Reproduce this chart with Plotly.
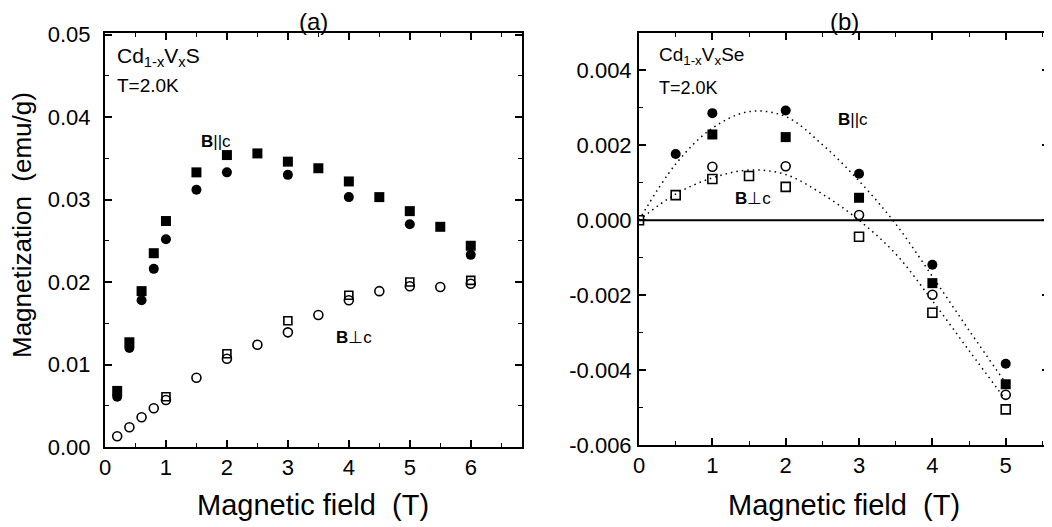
import plotly.graph_objects as go

# ---- Panel (a): Cd1-xVxS ----
a_par_sq_x = [0.2, 0.4, 0.6, 0.8, 1.0, 1.5, 2.0, 2.5, 3.0, 3.5, 4.0, 4.5, 5.0, 5.5, 6.0]
a_par_sq_y = [0.0068, 0.0127, 0.0189, 0.0235, 0.0274, 0.0333, 0.0354, 0.0356, 0.0346, 0.0338,
              0.0322, 0.0303, 0.0286, 0.0267, 0.0244]
a_par_ci_x = [0.2, 0.4, 0.6, 0.8, 1.0, 1.5, 2.0, 3.0, 4.0, 5.0, 6.0]
a_par_ci_y = [0.0061, 0.0120, 0.0178, 0.0216, 0.0252, 0.0312, 0.0333, 0.0330, 0.0303, 0.0270, 0.0233]
a_perp_ci_x = [0.2, 0.4, 0.6, 0.8, 1.0, 1.5, 2.0, 2.5, 3.0, 3.5, 4.0, 4.5, 5.0, 5.5, 6.0]
a_perp_ci_y = [0.0013, 0.0024, 0.0036, 0.0047, 0.0057, 0.0084, 0.0107, 0.0124, 0.0139, 0.0160,
               0.0178, 0.0189, 0.0195, 0.0194, 0.0198]
a_perp_sq_x = [1.0, 2.0, 3.0, 4.0, 5.0, 6.0]
a_perp_sq_y = [0.0061, 0.0113, 0.0153, 0.0184, 0.0200, 0.0202]

# ---- Panel (b): Cd1-xVxSe ----
b_par_ci_x = [0.5, 1.0, 2.0, 3.0, 4.0, 5.0]
b_par_ci_y = [0.00177, 0.00286, 0.00293, 0.00124, -0.00119, -0.00383]
b_par_sq_x = [1.0, 2.0, 3.0, 4.0, 5.0]
b_par_sq_y = [0.00229, 0.00222, 0.00060, -0.00168, -0.00438]
b_perp_ci_x = [1.0, 2.0, 3.0, 4.0, 5.0]
b_perp_ci_y = [0.00143, 0.00144, 0.00014, -0.00199, -0.00466]
b_perp_sq_x = [0.0, 0.5, 1.0, 1.5, 2.0, 3.0, 4.0, 5.0]
b_perp_sq_y = [0.0, 0.00067, 0.00110, 0.00118, 0.00089, -0.00044, -0.00247, -0.00505]

# dotted guide curves
b_fit_x = [0.0, 0.5, 1.0, 1.5, 2.0, 2.5, 3.0, 3.5, 4.0, 4.5, 5.0]
b_fit_par_y = [0.0, 0.00150, 0.00246, 0.00290, 0.00277, 0.00202, 0.00105, -0.00010, -0.00150, -0.00294, -0.00435]
b_fit_perp_y = [0.0, 0.00070, 0.00113, 0.00134, 0.00122, 0.00070, 0.00000, -0.00090, -0.00215, -0.00348, -0.00480]

a_xticks = [0, 1, 2, 3, 4, 5, 6]
a_yticks = [0.0, 0.01, 0.02, 0.03, 0.04, 0.05]
a_yticktext = ["0.00", "0.01", "0.02", "0.03", "0.04", "0.05"]
b_xticks = [0, 1, 2, 3, 4, 5]
b_yticks = [-0.006, -0.004, -0.002, 0.0, 0.002, 0.004]
b_yticktext = ["-0.006", "-0.004", "-0.002", "0.000", "0.002", "0.004"]

FONT = "Liberation Sans, Arial, sans-serif"
fig = go.Figure()

def add(x, y, symbol, xa, ya, size):
    open_ = "open" in symbol
    fig.add_trace(go.Scatter(
        x=x, y=y, mode="markers", xaxis=xa, yaxis=ya, showlegend=False,
        marker=dict(symbol=symbol, size=size, color="black",
                    line=dict(color="black", width=1.6 if open_ else 0))))

for xs, ys in [(b_fit_x, b_fit_par_y), (b_fit_x, b_fit_perp_y)]:
    fig.add_trace(go.Scatter(x=xs, y=ys, mode="lines", xaxis="x2", yaxis="y2", showlegend=False,
                             line=dict(color="black", width=1.5, dash="1.5px,4px",
                                       shape="spline", smoothing=1.0)))

add(a_par_sq_x, a_par_sq_y, "square", "x", "y", 10)
add(a_par_ci_x, a_par_ci_y, "circle", "x", "y", 10)
add(a_perp_ci_x, a_perp_ci_y, "circle-open", "x", "y", 9)
add(a_perp_sq_x, a_perp_sq_y, "square-open", "x", "y", 8)

add(b_par_ci_x, b_par_ci_y, "circle", "x2", "y2", 10)
add(b_par_sq_x, b_par_sq_y, "square", "x2", "y2", 10)
add(b_perp_ci_x, b_perp_ci_y, "circle-open", "x2", "y2", 9)
add(b_perp_sq_x, b_perp_sq_y, "square-open", "x2", "y2", 9)

def axis(**kw):
    d = dict(showline=True, linecolor="black", linewidth=2, mirror="ticks",
             ticks="inside", ticklen=7, tickwidth=1.5, tickcolor="black",
             showgrid=False, zeroline=False, automargin=False,
             tickfont=dict(family=FONT, size=22, color="black"))
    d.update(kw)
    return d

minor_common = dict(ticks="inside", ticklen=4, tickwidth=1.2, tickcolor="black", showgrid=False)

# page body adds an 8px offset, so the figure is 8px smaller and margins shifted
fig.update_layout(
    width=1044, height=519, paper_bgcolor="white", plot_bgcolor="white",
    margin=dict(l=97, r=3, t=25, b=80, autoexpand=False),
    font=dict(family=FONT, color="black"),
    xaxis=axis(domain=[0.0, 0.4417], range=[0, 6.84], tickvals=a_xticks,
               minor=dict(dtick=0.5, **minor_common), anchor="y"),
    yaxis=axis(domain=[0.0, 1.0], range=[0, 0.0502], tickvals=a_yticks, ticktext=a_yticktext,
               minor=dict(dtick=0.005, **minor_common), anchor="x", ticklabelstandoff=8),
    xaxis2=axis(domain=[0.5657, 1.0], range=[0, 5.59], tickvals=b_xticks,
                minor=dict(dtick=0.5, **minor_common), anchor="y2"),
    yaxis2=axis(domain=[0.005, 1.0], range=[-0.006, 0.005], tickvals=b_yticks, ticktext=b_yticktext,
                minor=dict(dtick=0.001, **minor_common), anchor="x2", ticklabelstandoff=1),
)

fig.add_shape(type="line", xref="x2 domain", x0=0, x1=1, yref="y2", y0=0, y1=0,
              line=dict(color="black", width=2))

NB = "\u00a0"
ann = [
    dict(text="(a)", x=0.5, y=1.0, xref="x domain", yref="paper", yanchor="middle", yshift=12,
         showarrow=False, font=dict(size=24)),
    dict(text="(b)", x=0.5, y=1.0, xref="x2 domain", yref="paper", yanchor="middle", yshift=12,
         showarrow=False, font=dict(size=24)),
    dict(text="Magnetic field" + NB * 2 + "(T)", x=0.5, y=0, xref="x domain", yref="paper",
         yanchor="middle", yshift=-58, showarrow=False, font=dict(size=29)),
    dict(text="Magnetic field" + NB * 2 + "(T)", x=0.5, y=0, xref="x2 domain", yref="paper",
         yanchor="middle", yshift=-58, showarrow=False, font=dict(size=29)),
    dict(text="Magnetization" + NB * 2 + "(emu/g)", x=0, y=0.5, xref="paper", yref="y domain",
         xanchor="center", yanchor="middle", xshift=-83, yshift=15, textangle=-90,
         showarrow=False, font=dict(size=26)),
    dict(text="Cd<sub>1-x</sub>V<sub>x</sub>S", x=0.024, y=0.943, xref="x domain", yref="y domain",
         xanchor="left", yanchor="middle", showarrow=False, font=dict(size=21)),
    dict(text="T=2.0K", x=0.024, y=0.872, xref="x domain", yref="y domain",
         xanchor="left", yanchor="middle", showarrow=False, font=dict(size=19)),
    dict(text="<b>B</b>||c", x=1.55, y=0.0370, xref="x", yref="y", xanchor="left",
         showarrow=False, font=dict(size=17)),
    dict(text="<b>B</b>⊥c", x=3.75, y=0.0133, xref="x", yref="y", xanchor="left",
         showarrow=False, font=dict(size=17)),
    dict(text="Cd<sub>1-x</sub>V<sub>x</sub>Se", x=0.044, y=0.944, xref="x2 domain", yref="y2 domain",
         xanchor="left", yanchor="middle", showarrow=False, font=dict(size=19)),
    dict(text="T=2.0K", x=0.044, y=0.867, xref="x2 domain", yref="y2 domain",
         xanchor="left", yanchor="middle", showarrow=False, font=dict(size=18)),
    dict(text="<b>B</b>||c", x=2.68, y=0.0027, xref="x2", yref="y2", xanchor="left",
         showarrow=False, font=dict(size=17)),
    dict(text="<b>B</b>⊥c", x=1.28, y=0.00057, xref="x2", yref="y2", xanchor="left",
         showarrow=False, font=dict(size=17)),
]
fig.update_layout(annotations=ann)

fig.write_html("out.html")
